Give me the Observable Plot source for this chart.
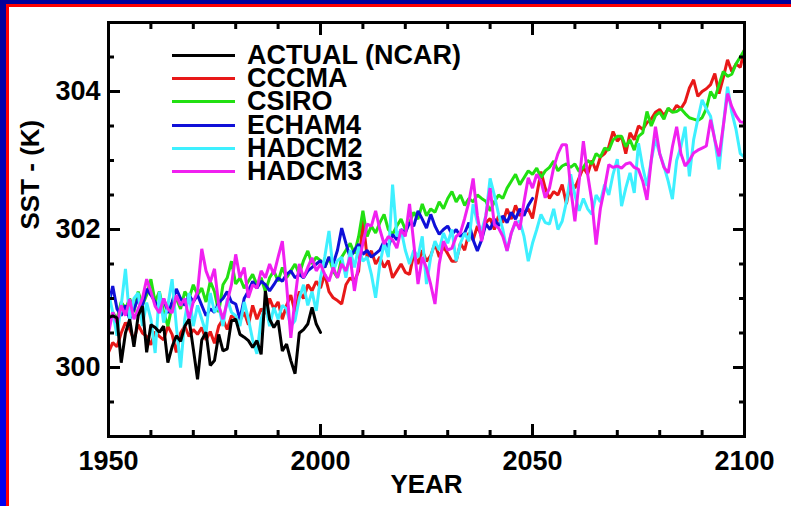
<!DOCTYPE html>
<html><head><meta charset="utf-8">
<script src="https://cdn.jsdelivr.net/npm/d3@7"></script>
<script src="https://cdn.jsdelivr.net/npm/@observablehq/plot@0.6"></script>
<style>
html,body{margin:0;padding:0;}
body{width:791px;height:506px;overflow:hidden;position:relative;background:linear-gradient(#00009a,#0000f0);font-family:"Liberation Sans",Arial,sans-serif;}
#panel{position:absolute;left:6px;top:4px;width:785px;height:502px;box-sizing:border-box;border-left:3px solid #ff0000;border-top:3px solid #ff0000;background:#fff;}
#chart{position:absolute;left:0;top:0;}
#legend{position:absolute;left:172px;top:44px;}
.row{display:flex;align-items:center;height:23.2px;}
.sw{width:63px;height:3px;margin-right:12px;}
.lab{font-weight:bold;font-size:27px;line-height:23.2px;color:#000;white-space:nowrap;}
</style></head><body>
<div id="panel"></div><div id="chart"></div><div id="legend"></div>
<script>
const startYear = 1950;
const seriesNames = ["ACTUAL (NCAR)", "CCCMA", "CSIRO", "ECHAM4", "HADCM2", "HADCM3"];
const seriesColors = ["#000000", "#e81818", "#22e012", "#1010d8", "#3ef0ff", "#f020f0"];
const xTicksMajor = [1950, 2000, 2050, 2100];
const yTicksMajor = [300, 302, 304];

const actual = [300.72,300.75,300.72,300.07,300.50,300.70,300.30,300.75,300.89,300.22,
 300.62,300.58,300.51,300.60,300.07,300.30,300.46,300.38,300.60,300.70,
 300.27,299.83,300.40,300.51,300.03,300.10,300.48,300.24,300.27,300.68,
 300.70,300.48,300.44,300.39,300.29,300.39,300.19,301.11,300.70,300.58,
 300.68,300.24,300.34,300.10,299.91,300.50,300.55,300.63,300.87,300.63,
 300.51];
const cccma = [300.22,300.36,300.30,300.50,300.65,300.55,300.40,300.62,300.50,300.45,
 300.33,300.52,300.45,300.40,300.60,300.48,300.22,300.50,300.60,300.45,
 300.55,300.48,300.58,300.40,300.52,300.35,300.60,300.70,300.55,300.75,
 300.72,300.68,300.80,300.62,300.90,300.70,300.85,300.78,301.00,300.85,
 300.95,300.70,300.90,301.05,300.80,301.10,301.00,301.20,301.11,301.25,
 301.15,301.35,301.10,301.01,300.97,300.92,301.20,301.30,301.25,301.40,
 302.16,301.59,301.69,301.50,301.60,301.45,301.55,301.30,301.40,301.50,
 301.38,301.35,301.65,301.50,301.70,301.54,301.62,301.80,301.60,301.75,
 301.65,301.54,301.54,301.80,301.70,301.95,301.85,302.05,301.90,302.10,
 302.16,302.00,302.20,302.10,302.30,302.15,302.35,302.20,302.25,302.30,
 302.16,302.50,302.84,302.60,302.45,302.55,302.50,302.65,302.37,302.70,
 302.60,302.75,302.90,302.80,303.00,302.85,303.05,303.10,303.20,303.42,
 303.28,303.35,303.10,303.40,303.30,303.50,303.45,303.55,303.60,303.70,
 303.74,303.65,303.75,303.70,303.80,303.75,303.85,304.05,304.17,303.93,
 304.00,304.04,304.10,304.26,303.97,304.20,304.46,304.29,304.40,304.35,304.61];
const csiro = [300.60,300.80,300.70,300.95,300.85,301.00,300.80,301.10,300.90,301.05,
 301.28,300.95,301.10,300.80,300.60,300.90,301.00,300.85,301.10,301.00,
 301.20,301.05,301.15,300.95,301.25,301.10,300.80,301.20,301.30,301.54,
 301.21,301.30,301.15,301.25,301.35,301.20,301.30,301.10,301.30,301.40,
 301.25,301.45,301.30,301.40,301.50,301.35,301.55,301.69,301.50,301.60,
 301.55,301.45,301.60,301.40,301.30,301.60,301.70,301.80,301.65,301.90,
 302.27,301.90,302.05,301.95,302.10,302.22,302.00,301.93,302.05,302.15,
 302.00,302.10,302.25,302.15,302.37,302.20,302.30,302.25,302.40,302.30,
 302.45,302.55,302.40,302.50,302.35,302.45,302.40,302.50,302.45,302.41,
 302.27,302.40,302.50,302.45,302.60,302.70,302.80,302.65,302.75,302.85,
 302.80,302.89,302.75,302.85,302.90,302.99,302.85,302.92,302.95,302.90,
 302.95,302.84,302.90,303.00,302.95,303.10,303.05,303.18,303.15,303.30,
 303.35,303.35,303.20,303.30,303.15,303.35,303.40,303.71,303.50,303.65,
 303.70,303.60,303.76,303.70,303.71,303.75,303.68,303.62,303.60,303.58,
 303.62,303.75,304.00,303.90,304.10,304.29,304.22,304.25,304.40,304.50,304.60];
const echam4 = [300.90,301.18,300.85,300.75,300.90,300.70,300.85,301.00,300.90,301.14,
 301.05,300.95,300.85,301.00,300.79,300.95,301.14,301.00,300.90,301.05,
 300.95,301.05,300.90,300.75,300.85,300.80,300.94,301.00,301.10,300.95,
 300.92,300.70,301.00,301.11,301.25,301.15,301.25,301.20,301.11,301.20,
 301.30,301.25,301.35,301.40,301.30,301.35,301.30,301.40,301.45,301.50,
 301.55,301.45,301.60,301.50,301.70,302.02,301.80,301.59,301.70,301.79,
 301.64,301.70,301.60,301.65,301.70,301.83,301.75,301.93,301.85,302.00,
 301.95,302.10,302.05,302.27,302.15,302.02,302.22,302.05,301.93,302.00,
 302.05,301.93,302.00,301.90,301.95,302.10,301.85,301.69,301.85,302.08,
 302.00,302.15,302.05,302.20,302.10,302.25,302.15,302.30,302.20,302.35,302.45];
const hadcm2 = [301.08,300.80,300.46,300.90,301.43,300.70,301.00,301.08,300.60,300.94,
 300.70,300.21,301.10,300.65,300.90,301.28,300.60,300.00,300.70,301.08,
 300.60,300.90,300.70,300.50,301.08,300.80,300.90,300.60,301.00,300.80,
 300.75,300.60,300.95,300.70,300.40,300.20,300.70,300.90,300.60,300.87,
 300.70,300.90,300.85,300.60,300.68,301.00,301.20,300.90,301.10,300.82,
 301.30,301.60,301.98,301.40,301.55,301.60,301.30,301.70,301.45,301.75,
 301.54,301.60,301.35,301.01,301.50,301.80,301.60,302.65,301.90,302.00,
 301.70,301.50,301.70,301.60,301.90,301.21,301.60,301.83,301.70,301.95,
 301.80,302.00,301.54,301.80,301.95,301.83,302.37,302.10,301.98,302.20,
 302.74,302.50,302.22,302.00,301.69,301.95,302.10,302.12,301.90,301.54,
 301.80,302.00,302.22,302.10,302.08,302.30,302.00,302.12,302.40,302.80,
 302.50,302.27,302.45,302.30,302.22,302.50,302.40,302.65,302.50,302.80,
 303.02,302.34,302.60,302.82,302.53,303.25,302.90,302.63,303.00,303.31,
 303.10,302.92,302.70,302.44,303.00,303.20,303.49,302.77,303.30,303.60,
 303.88,303.75,303.64,303.30,302.87,303.50,304.07,303.70,303.45,303.10,303.05];
const hadcm3 = [300.50,300.80,300.65,300.90,300.75,300.99,300.70,300.85,301.00,301.28,
 301.10,300.89,300.79,301.00,300.85,300.79,301.05,300.90,301.00,300.70,
 300.95,301.10,301.72,301.40,301.24,301.43,300.90,300.70,300.95,301.20,
 301.64,301.30,301.45,301.01,301.20,301.15,301.40,301.30,301.50,301.35,
 301.60,301.83,301.20,300.43,301.00,301.50,301.30,301.45,301.59,301.40,
 301.50,301.35,301.25,301.45,301.30,301.50,301.40,301.60,301.11,301.50,
 301.80,302.08,302.05,302.27,302.00,301.79,301.90,301.85,301.73,302.00,
 301.90,302.37,301.80,301.21,301.60,301.44,301.20,300.92,301.50,301.83,
 301.70,301.73,301.90,301.95,302.16,302.40,302.74,302.20,301.83,302.20,
 302.60,302.07,302.02,301.90,301.69,301.95,302.12,302.00,302.40,302.75,
 302.60,302.80,302.70,302.46,302.60,302.90,303.10,303.23,303.23,302.60,
 302.12,302.70,303.28,302.80,302.41,301.78,302.30,302.60,302.94,302.90,
 302.92,302.89,302.95,302.97,302.90,302.87,302.70,302.43,303.00,303.49,
 303.10,302.90,302.82,303.20,303.49,303.10,302.92,303.00,303.11,303.15,
 303.18,303.21,303.59,303.30,303.06,303.50,303.97,303.78,303.65,303.56,303.55];

const seriesValues = [actual, cccma, csiro, echam4, hadcm2, hadcm3];
const table = [];
seriesValues.forEach((vals, s) => vals.forEach((v, i) => table.push({series: seriesNames[s], year: startYear + i, sst: v})));
// draw order: models first, actual on top
const drawOrder = ["CCCMA", "CSIRO", "ECHAM4", "HADCM2", "HADCM3", "ACTUAL (NCAR)"];

const xMinor = d3.range(1950, 2101, 10);
const yMinor = d3.range(299, 305.01, 0.5);
const axisStyle = {stroke: "black", strokeWidth: 3, fill: "none", label: null};

const lineMarks = drawOrder.map(name => Plot.line(table.filter(d => d.series === name), {
  x: "year", y: "sst", stroke: seriesColors[seriesNames.indexOf(name)], strokeWidth: 3, strokeLinejoin: "miter"
}));

const chart = Plot.plot({
  width: 791, height: 506,
  marginLeft: 108, marginRight: 47, marginTop: 22, marginBottom: 70,
  style: {background: "transparent", fontFamily: "'Liberation Sans', Arial, sans-serif", fontWeight: "bold", fontSize: "27px", color: "black"},
  x: {domain: [1950, 2100]},
  y: {domain: [299, 305]},
  marks: [
    ...lineMarks,
    Plot.axisX(xMinor, {anchor: "bottom", tickSize: -6, ...axisStyle}),
    Plot.axisX(xMinor, {anchor: "top", tickSize: -6, ...axisStyle}),
    Plot.axisX(xTicksMajor, {anchor: "bottom", tickSize: -12, ...axisStyle}),
    Plot.axisX(xTicksMajor, {anchor: "top", tickSize: -12, ...axisStyle}),
    Plot.axisY(yMinor, {anchor: "left", tickSize: -6, ...axisStyle}),
    Plot.axisY(yMinor, {anchor: "right", tickSize: -6, ...axisStyle}),
    Plot.axisY(yTicksMajor, {anchor: "left", tickSize: -12, ...axisStyle}),
    Plot.axisY(yTicksMajor, {anchor: "right", tickSize: -12, ...axisStyle}),
    Plot.axisX(xTicksMajor, {anchor: "bottom", tickSize: 0, tickPadding: 14, tickFormat: d => String(d), label: null, fill: "black", fontSize: 27, fontWeight: "bold"}),
    Plot.axisY(yTicksMajor, {anchor: "left", tickSize: 0, tickPadding: 8, tickFormat: d => String(d), label: null, fill: "black", fontSize: 27, fontWeight: "bold"}),
    Plot.frame({stroke: "black", strokeWidth: 3}),
    Plot.text(["YEAR"], {frameAnchor: "bottom", dy: 56, fontSize: 26, fontWeight: "bold", fill: "black"}),
    Plot.text(["SST - (K)"], {frameAnchor: "left", dx: -78, rotate: -90, fontSize: 26, fontWeight: "bold", fill: "black"})
  ]
});
document.getElementById("chart").appendChild(chart);

const legend = document.getElementById("legend");
seriesNames.forEach((name, i) => {
  const row = document.createElement("div");
  row.className = "row";
  const sw = document.createElement("div");
  sw.className = "sw";
  sw.style.background = seriesColors[i];
  const lab = document.createElement("div");
  lab.className = "lab";
  lab.textContent = name;
  row.appendChild(sw); row.appendChild(lab);
  legend.appendChild(row);
});
</script>
</body></html>
